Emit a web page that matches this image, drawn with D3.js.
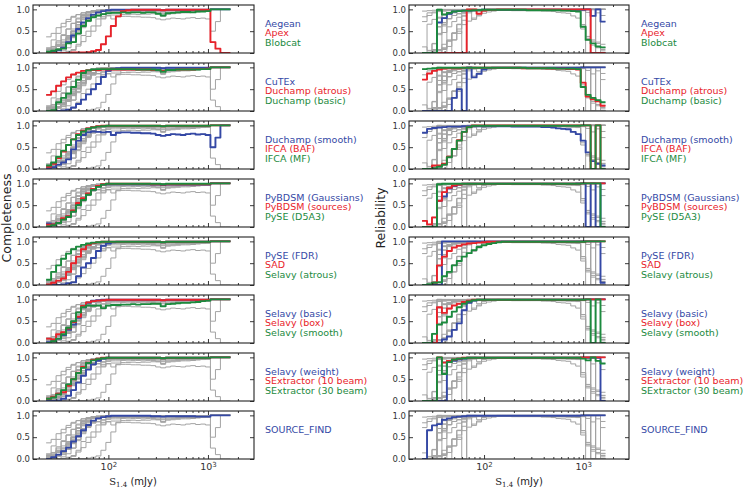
<!DOCTYPE html>
<html><head><meta charset="utf-8">
<script src="https://cdn.jsdelivr.net/npm/d3@7"></script>
<style>body{margin:0;background:#fff}svg{display:block}</style>
</head><body>
<svg id="chart" width="747" height="491"></svg>
<script>
// ---------- DATA ----------
const binEdges = [23.71,26.61,29.85,33.50,37.58,42.17,47.32,53.09,59.57,66.83,74.99,84.14,94.41,105.9,118.9,133.4,149.6,167.9,188.4,211.3,237.1,266.1,298.5,335.0,375.8,421.7,473.2,530.9,595.7,668.3,749.9,841.4,944.1,1059,1189,1334,1496,1679];

const groups = [
 ["Aegean","Apex","Blobcat"],
 ["CuTEx","Duchamp (atrous)","Duchamp (basic)"],
 ["Duchamp (smooth)","IFCA (BAF)","IFCA (MF)"],
 ["PyBDSM (Gaussians)","PyBDSM (sources)","PySE (D5A3)"],
 ["PySE (FDR)","SAD","Selavy (atrous)"],
 ["Selavy (basic)","Selavy (box)","Selavy (smooth)"],
 ["Selavy (weight)","SExtractor (10 beam)","SExtractor (30 beam)"],
 ["SOURCE_FIND"]
];

// completeness
const C_Aegean = [0.01,0.03,0.06,0.12,0.25,0.40,0.55,0.70,0.80,0.88, 0.93,0.96,0.98,0.99,0.99,0.99,0.99,0.99,0.99,0.99, 0.99,0.99,0.99,0.98,0.99,0.99,0.99,0.99,0.99,0.99, 0.99,0.99,0.99,1,1,1,1];
const C_Apex = [0,0,0,0,0,0.01,0.01,0.01,0.02,0.04, 0.07,0.20,0.38,0.62,0.84,0.96,0.98,0.99,0.99,0.99, 0.99,0.99,0.99,0.98,0.99,0.99,0.99,0.99,0.99,0.99, 0.99,0.99,0.99,0.25,0.10,0,0];
const C_Blobcat = [0.03,0.05,0.08,0.10,0.22,0.25,0.45,0.62,0.74,0.82, 0.86,0.89,0.91,0.92,0.92,0.93,0.92,0.93,0.93,0.92, 0.93,0.93,0.90,0.86,0.91,0.92,0.93,0.94,0.94,0.93, 0.95,0.95,0.96,1,1,1,1];
const C_CuTEx = [0,0,0,0.01,0.03,0.08,0.16,0.26,0.38,0.50, 0.62,0.78,0.92,0.97,0.98,0.99,0.99,0.99,0.99,0.99, 0.99,0.99,0.99,0.98,0.99,0.99,0.99,0.99,0.99,0.99, 0.99,0.99,0.99,1,1,1,1];
const C_DuchampAtrous = [0.37,0.45,0.58,0.68,0.77,0.84,0.88,0.92,0.93,0.94, 0.94,0.95,0.95,0.95,0.95,0.95,0.95,0.95,0.95,0.95, 0.95,0.94,0.94,0.92,0.94,0.94,0.95,0.95,0.95,0.95, 0.96,0.96,0.97,1,1,1,1];
const C_DuchampBasic = [0,0.02,0.20,0.30,0.40,0.55,0.72,0.87,0.93,0.95, 0.96,0.96,0.96,0.96,0.96,0.96,0.96,0.96,0.95,0.95, 0.95,0.95,0.94,0.90,0.94,0.94,0.95,0.95,0.95,0.95, 0.95,0.96,0.96,1,1,1,1];
const C_DuchampSmooth = [0.02,0.04,0.10,0.15,0.22,0.45,0.65,0.78,0.84,0.86, 0.85,0.84,0.85,0.78,0.83,0.84,0.84,0.83,0.83,0.82, 0.82,0.81,0.78,0.76,0.78,0.80,0.79,0.78,0.80,0.81, 0.79,0.80,0.78,0.50,0.72,1,1];
const C_IFCABAF = [0.05,0.12,0.25,0.40,0.55,0.68,0.80,0.88,0.93,0.96, 0.98,0.99,0.99,0.99,0.99,0.99,0.99,0.99,0.99,0.99, 0.99,0.99,0.99,0.98,0.99,0.99,0.99,0.99,0.99,0.99, 0.99,0.99,0.99,1,1,1,1];
const C_IFCAMF = [0.08,0.15,0.28,0.42,0.55,0.68,0.78,0.86,0.92,0.95, 0.97,0.98,0.99,0.99,0.99,0.99,0.99,0.99,0.99,0.99, 0.99,0.99,0.99,0.98,0.99,0.99,0.99,0.99,0.99,0.99, 0.99,0.99,0.99,1,1,1,1];
const C_PyBDSMGauss = [0.08,0.06,0.10,0.18,0.24,0.36,0.52,0.64,0.75,0.86, 0.93,0.97,0.98,0.98,0.98,0.98,0.98,0.98,0.98,0.98, 0.98,0.97,0.97,0.96,0.97,0.97,0.97,0.97,0.97,0.97, 0.97,0.97,0.97,1,1,1,1];
const C_PyBDSMSrc = [0.05,0.06,0.10,0.20,0.25,0.38,0.55,0.66,0.77,0.87, 0.94,0.98,0.99,0.99,0.99,0.99,0.99,0.99,0.99,0.99, 0.99,0.98,0.98,0.97,0.98,0.98,0.98,0.98,0.98,0.98, 0.98,0.98,0.98,1,1,1,1];
const C_PySED5A3 = [0.01,0.04,0.09,0.17,0.23,0.35,0.50,0.62,0.74,0.85, 0.92,0.97,0.99,0.99,0.99,0.99,0.99,0.99,0.99,0.99, 0.99,0.99,0.99,0.98,0.99,0.99,0.99,0.99,0.99,0.99, 0.99,0.99,0.99,1,1,1,1];
const C_PySEFDR = [0,0,0,0.01,0.04,0.06,0.20,0.40,0.50,0.62, 0.78,0.90,0.95,0.98,0.99,0.99,0.99,0.99,0.99,0.99, 0.99,0.99,0.99,0.98,0.99,0.99,0.99,0.99,0.99,0.99, 0.99,0.99,0.99,1,1,1,1];
const C_SAD = [0.01,0.05,0.10,0.15,0.30,0.50,0.65,0.82,0.92,0.96, 0.98,0.99,0.99,0.99,0.99,0.99,0.99,0.99,0.99,0.99, 0.99,0.99,0.99,0.98,0.99,0.99,0.99,0.99,0.99,0.99, 0.99,0.99,0.99,1,1,1,1];
const C_SelavyAtrous = [0.12,0.30,0.45,0.60,0.72,0.82,0.88,0.92,0.95,0.97, 0.98,0.99,0.99,0.99,0.99,0.99,0.99,0.99,0.99,0.99, 0.99,0.99,0.99,0.98,0.99,0.99,0.99,0.99,0.99,0.99, 0.99,0.99,0.99,1,1,1,1];
const C_SelavyBasic = [0.02,0.04,0.10,0.18,0.30,0.42,0.58,0.82,0.92,0.97, 0.98,0.99,0.99,0.99,0.99,0.99,0.99,0.99,0.99,0.99, 0.99,0.99,0.99,0.98,0.99,0.99,0.99,0.99,0.99,0.99, 0.99,0.99,0.99,1,1,1,1];
const C_SelavyBox = [0.10,0.08,0.20,0.25,0.33,0.48,0.60,0.85,0.93,0.96, 0.97,0.98,0.99,0.99,0.99,0.99,0.99,0.99,0.99,0.99, 0.99,0.99,0.99,0.98,0.99,0.99,0.99,0.99,0.99,0.99, 0.99,0.99,0.99,1,1,1,1];
const C_SelavySmooth = [0,0.04,0.10,0.20,0.35,0.50,0.70,0.82,0.86,0.85, 0.86,0.80,0.86,0.87,0.87,0.88,0.88,0.89,0.88,0.89, 0.89,0.90,0.90,0.84,0.89,0.90,0.91,0.92,0.92,0.93, 0.94,0.96,0.97,1,1,1,1];
const C_SelavyWeight = [0,0,0.01,0.05,0.12,0.25,0.42,0.58,0.72,0.84, 0.92,0.97,0.99,0.99,0.99,0.99,0.99,0.99,0.99,0.99, 0.99,0.99,0.99,0.98,0.99,0.99,0.99,0.99,0.99,0.99, 0.99,0.99,0.99,1,1,1,1];
const C_SExtractor10 = [0.05,0.10,0.17,0.20,0.35,0.50,0.65,0.78,0.88,0.94, 0.97,0.99,0.99,0.99,0.99,0.99,0.99,0.99,0.99,0.99, 0.99,0.99,0.99,0.98,0.99,0.99,0.99,0.99,0.99,0.99, 0.99,0.99,0.99,1,1,1,1];
const C_SExtractor30 = [0.05,0.08,0.15,0.25,0.38,0.50,0.64,0.76,0.87,0.93, 0.96,0.98,0.99,0.99,0.99,0.99,0.99,0.99,0.99,0.99, 0.99,0.99,0.99,0.98,0.99,0.99,0.99,0.99,0.99,0.99, 0.99,0.99,0.99,1,1,1,1];
const C_SourceFind = [0,0.04,0.10,0.18,0.26,0.40,0.52,0.66,0.78,0.88, 0.93,0.96,0.98,0.99,0.99,0.99,0.99,0.99,0.99,0.99, 0.99,0.98,0.98,0.97,0.98,0.98,0.98,0.98,0.98,0.98, 0.97,0.97,0.97,1,1,1,1];

// reliability
const R_Aegean = [0,0,0,0.70,0.80,0.90,0.95,0.96,0.97,0.97, 0.98,0.98,0.99,0.99,0.99,0.99,0.99,0.99,0.99,0.99, 0.99,0.99,0.99,0.99,0.99,0.99,0.99,0.99,0.99,0.99, 0.99,0.99,0.99,1,0.85,1,0.72];
const R_Apex = [0,0,0,0,0,0,0,0,0,1, 1,0.90,0.97,0.99,0.99,1,1,1,1,1, 1,1,1,1,1,1,1,1,1,1, 1,1,1,1,0,0,0];
const R_Blobcat = [0,0,0,0.99,0.88,0.92,0.95,0.96,0.97,0.97, 0.98,0.98,0.99,0.99,0.99,0.99,0.99,0.99,0.99,0.99, 0.99,0.98,0.98,0.98,0.98,0.98,0.98,0.98,0.97,0.97, 0.96,0.95,0.60,0.30,0.22,0.15,0.13];
const R_CuTEx = [0,0,0,0,0,0,0.30,0.50,0,1, 0.77,0.85,0.95,0.98,0.99,0.99,0.99,0.99,0.99,0.99, 0.99,0.99,0.99,0.99,0.99,0.99,0.99,0.99,0.99,0.99, 0.99,0.99,1,1,1,1,1];
const R_DuchampAtrous = [0.72,0.86,0.92,0.95,0.97,0.98,0.98,0.98,0.99,0.99, 0.99,0.99,0.99,0.99,0.99,0.99,0.99,0.99,0.99,0.99, 0.98,0.98,0.98,0.98,0.98,0.97,0.97,0.97,0.97,0.96, 0.96,0.95,0.65,0.33,0.27,0.22,0.12];
const R_DuchampBasic = [0.96,0.97,0.98,0.99,0.99,0.99,0.99,0.99,0.99,0.99, 0.99,0.99,0.99,0.99,0.99,0.99,0.99,0.99,0.99,0.99, 0.99,0.98,0.98,0.98,0.98,0.98,0.98,0.97,0.97,0.97, 0.97,0.96,0.55,0.37,0.30,0.25,0.20];
const R_DuchampSmooth = [0.83,0.92,0.94,0.95,0.96,0.97,0.97,0.97,0.98,0.98, 0.98,0.98,0.98,0.98,0.98,0.98,0.98,0.98,0.97,0.97, 0.97,0.97,0.97,0.97,0.96,0.96,0.95,0.93,0.92,0.91, 0.85,0.80,0.65,0.38,0.18,0.12,0.08];
const R_IFCABAF = [0,0,0.08,0.08,0.12,0.28,0.46,0.66,0.85,0.96, 1,1,1,1,1,1,1,1,1,1, 1,1,1,1,1,1,1,1,1,1, 1,1,1,1,0,1,0];
const R_IFCAMF = [0,0,0.02,0.05,0.10,0.27,0.46,0.65,0.85,0.96, 0.99,0.99,0.99,0.99,0.99,0.99,0.99,0.99,0.99,0.99, 0.99,0.99,0.99,0.99,0.99,0.99,0.99,0.99,0.99,0.99, 0.99,0.99,1,1,0,1,0];
const R_PyBDSMGauss = [0,0,0,0.60,0.70,0.88,0.94,0.97,0.99,0.99, 0.99,0.99,0.99,0.99,0.99,0.99,0.99,0.99,0.99,0.99, 0.99,0.99,0.99,0.99,0.99,0.99,0.99,0.99,0.99,0.99, 0.99,1,1,0,1,0,1];
const R_PyBDSMSrc = [0.14,0.06,0.22,0.60,0.80,0.90,0.95,0.97,0.99,0.99, 0.99,0.99,0.99,0.99,0.99,0.99,0.99,0.99,0.99,0.99, 0.99,0.99,0.99,0.99,0.99,0.99,0.99,0.99,0.99,0.99, 0.99,0.99,1,1,1,1,1];
const R_PySED5A3 = [0,0,0,0.98,0.99,0.99,0.99,0.99,0.99,0.99, 0.99,0.99,0.99,0.99,0.99,0.99,0.99,0.99,0.99,0.99, 0.99,0.99,0.99,0.99,0.99,0.99,0.99,0.99,0.99,0.99, 0.99,0.99,1,1,1,1,0];
const R_PySEFDR = [0,0,0,0,1,1,1,1,1,1, 1,1,1,1,1,1,1,1,1,1, 1,1,1,1,1,1,1,1,1,1, 1,1,1,1,1,1,0.05];
const R_SAD = [0,0,0.05,0.45,0.65,0.78,0.86,0.90,0.93,0.95, 0.96,0.97,0.98,0.99,0.99,0.99,0.99,0.99,0.99,0.99, 0.99,0.99,0.99,0.99,0.99,0.99,0.99,0.99,0.99,0.99, 0.99,0.99,0.99,1,1,1,1];
const R_SelavyAtrous = [0,0.02,0.05,0.06,0.20,0.30,0.45,0.55,0.65,0.73, 0.80,0.87,0.91,0.94,0.96,0.98,0.99,0.99,0.99,0.99, 0.99,0.99,0.99,0.99,0.99,0.99,0.99,0.99,0.99,0.99, 0.99,0.99,0.99,1,1,1,1];
const R_SelavyBasic = [0,0,0,0,0.08,0.15,0.30,0.45,0.75,0.92, 0.97,0.99,0.99,0.99,0.99,0.99,0.99,0.99,0.99,0.99, 0.99,0.99,0.99,0.99,0.99,0.99,0.99,0.99,0.99,0.99, 0.99,0.99,0.99,1,1,1,1];
const R_SelavyBox = [0,0,0,0.82,0.69,0.79,0.86,0.90,0.94,0.97, 0.99,0.99,0.99,0.99,0.99,0.99,0.99,0.99,0.99,0.99, 0.99,0.99,0.99,0.99,0.99,0.99,0.99,0.99,0.99,0.99, 0.99,0.99,0.99,1,1,1,1];
const R_SelavySmooth = [0,0,0.21,0.42,0.47,0.60,0.72,0.82,0.90,0.95, 0.98,0.99,0.99,0.99,0.99,0.99,0.99,0.99,0.99,0.99, 0.99,0.99,0.99,0.99,0.99,0.99,0.99,0.99,0.99,0.99, 0.99,0.99,0.99,1,0,1,0];
const R_SelavyWeight = [0,0,0,0,0,0.90,0.92,0.95,0.97,0.99, 0.99,0.99,0.99,0.99,0.99,0.99,0.99,0.99,0.99,0.99, 0.99,0.99,0.99,0.99,0.99,0.99,0.99,0.99,0.99,0.99, 0.99,0.99,0.99,0.99,0.99,0.99,0];
const R_SExtractor10 = [0,0,0,1,0.88,0.92,0.95,0.97,0.99,0.99, 0.99,0.99,0.99,0.99,0.99,0.99,0.99,0.99,0.99,0.99, 0.99,0.99,0.99,0.99,0.99,0.99,0.99,0.99,0.99,0.99, 0.99,0.99,1,1,1,1,1];
const R_SExtractor30 = [0,0,0,1,0.62,0.89,0.95,0.97,0.98,0.99, 0.99,0.99,0.99,0.99,0.99,0.99,0.99,0.99,0.99,0.99, 0.99,0.99,0.99,0.99,0.99,0.99,0.99,0.99,0.99,0.99, 0.99,0.99,0.97,0.93,1,0.92,0.86];
const R_SourceFind = [0,0.66,0.77,0.80,0.90,0.93,0.96,0.97,0.98,0.99, 0.99,0.99,0.99,0.99,0.99,0.99,0.99,0.99,0.99,0.99, 0.99,0.99,0.99,0.99,0.99,0.99,0.99,0.99,0.99,0.99, 0.99,0.99,1,1,1,1,1];

const completenessSeries = [C_Aegean,C_Apex,C_Blobcat,C_CuTEx,C_DuchampAtrous,C_DuchampBasic,C_DuchampSmooth,C_IFCABAF,C_IFCAMF,C_PyBDSMGauss,C_PyBDSMSrc,C_PySED5A3,C_PySEFDR,C_SAD,C_SelavyAtrous,C_SelavyBasic,C_SelavyBox,C_SelavySmooth,C_SelavyWeight,C_SExtractor10,C_SExtractor30,C_SourceFind];
const reliabilitySeries = [R_Aegean,R_Apex,R_Blobcat,R_CuTEx,R_DuchampAtrous,R_DuchampBasic,R_DuchampSmooth,R_IFCABAF,R_IFCAMF,R_PyBDSMGauss,R_PyBDSMSrc,R_PySED5A3,R_PySEFDR,R_SAD,R_SelavyAtrous,R_SelavyBasic,R_SelavyBox,R_SelavySmooth,R_SelavyWeight,R_SExtractor10,R_SExtractor30,R_SourceFind];

const yTicks = [0, 0.5, 1.0];
const xMajorTicks = [100, 1000];
const xMinorTicks = [20,30,40,50,60,70,80,90,200,300,400,500,600,700,800,900,2000];

// ---------- STYLE / LAYOUT ----------
const colors = ["#3448a5", "#e8222a", "#1c8a3e"];
const grayColor = "#a3a3a3";
const font = "DejaVu Sans";
const xDomain = [17.5, 2900];
const yDomain = [0, 1.1];
const firstTop = 5, rowStep = 58, panelH = 48;
const columns = [
  {x0:33, x1:254, label:"Completeness", labelX:10.5, legendX:265, xLabelX:133, series:completenessSeries},
  {x0:409, x1:629, label:"Reliability", labelX:385, legendX:641, xLabelX:519, series:reliabilitySeries}
];

const finderNames = groups.flat();
const svg = d3.select("#chart");
svg.append("rect").attr("width",747).attr("height",491).attr("fill","#fff");

function stepPoints(vals){
  const pts = vals.map((v,i)=>[binEdges[i], v]);
  pts.push([binEdges[vals.length], vals[vals.length-1]]);
  return pts;
}

let clipId = 0;
columns.forEach((col, ci) => {
  const seriesByName = new Map(finderNames.map((n,i)=>[n, col.series[i]]));
  groups.forEach((grp, r) => {
    const top = firstTop + r*rowStep, bottom = top + panelH;
    const x = d3.scaleLog().domain(xDomain).range([col.x0, col.x1]);
    const y = d3.scaleLinear().domain(yDomain).range([bottom, top]);
    const g = svg.append("g");
    const id = "clip" + (clipId++);
    g.append("clipPath").attr("id", id).append("rect")
      .attr("x", col.x0).attr("y", top).attr("width", col.x1-col.x0).attr("height", panelH);
    const lineGen = d3.line().x(d=>x(d[0])).y(d=>y(d[1])).curve(d3.curveStepAfter);
    const plot = g.append("g").attr("clip-path", `url(#${id})`);
    finderNames.forEach(n => {
      plot.append("path").attr("d", lineGen(stepPoints(seriesByName.get(n))))
        .attr("fill","none").attr("stroke",grayColor).attr("stroke-width",1)
        .attr("stroke-linejoin","round");
    });
    grp.forEach((n,k) => {
      plot.append("path").attr("d", lineGen(stepPoints(seriesByName.get(n))))
        .attr("fill","none").attr("stroke",colors[k]).attr("stroke-width",1.9)
        .attr("stroke-linejoin","round");
    });
    const styleAxis = sel => {
      sel.select(".domain").remove();
      sel.selectAll(".tick line").attr("stroke","#222").attr("stroke-width",0.9);
      sel.attr("font-family", font).attr("font-size", 8.5);
    };
    g.append("g").attr("transform",`translate(${col.x0},0)`)
      .call(d3.axisLeft(y).tickValues(yTicks).tickSize(-4).tickPadding(3).tickFormat(d3.format(".1f")))
      .call(styleAxis).call(s=>s.selectAll(".tick text").attr("fill","#333"));
    g.append("g").attr("transform",`translate(${col.x1},0)`)
      .call(d3.axisRight(y).tickValues(yTicks).tickSize(-4).tickFormat("")).call(styleAxis);
    const last = r === groups.length-1;
    const xb = g.append("g").attr("transform",`translate(0,${bottom})`)
      .call(d3.axisBottom(x).tickValues(xMajorTicks).tickSize(-4).tickPadding(4.5)
        .tickFormat(last ? (d=>String(d)) : ""))
      .call(styleAxis);
    if (last) {
      xb.selectAll(".tick text").each(function(d){
        const t = d3.select(this);
        t.text("").attr("fill","#333").attr("font-size",9.5);
        t.append("tspan").text("10");
        t.append("tspan").attr("dy","-0.45em").attr("font-size",7).text(String(Math.round(Math.log10(d))));
      });
    }
    g.append("g").attr("transform",`translate(0,${bottom})`)
      .call(d3.axisBottom(x).tickValues(xMinorTicks).tickSize(-2).tickFormat("")).call(styleAxis);
    g.append("g").attr("transform",`translate(0,${top})`)
      .call(d3.axisTop(x).tickValues(xMajorTicks).tickSize(-4).tickFormat("")).call(styleAxis);
    g.append("g").attr("transform",`translate(0,${top})`)
      .call(d3.axisTop(x).tickValues(xMinorTicks).tickSize(-2).tickFormat("")).call(styleAxis);
    g.append("rect").attr("x",col.x0).attr("y",top).attr("width",col.x1-col.x0).attr("height",panelH)
      .attr("fill","none").attr("stroke","#222").attr("stroke-width",1.1);
    grp.forEach((n,k) => {
      g.append("text").attr("x", col.legendX).attr("y", top + 21.7 + k*9.7)
        .attr("font-family", font).attr("font-size", 9.5).attr("fill", colors[k]).text(n);
    });
  });
  svg.append("text").attr("transform",`translate(${col.labelX},218) rotate(-90)`)
    .attr("text-anchor","middle")
    .attr("font-family",font).attr("font-size",12.5).attr("fill","#222").text(col.label);
  const xl = svg.append("text").attr("x", col.xLabelX).attr("y", 485).attr("text-anchor","middle")
    .attr("fill","#222").attr("font-size",10).attr("font-family",font);
  xl.append("tspan").attr("font-family","DejaVu Serif").text("S");
  xl.append("tspan").attr("font-family","DejaVu Serif").attr("font-size",7).attr("dy",2).text("1.4");
  xl.append("tspan").attr("dy",-2).text(" (mJy)");
});
</script>
</body></html>
